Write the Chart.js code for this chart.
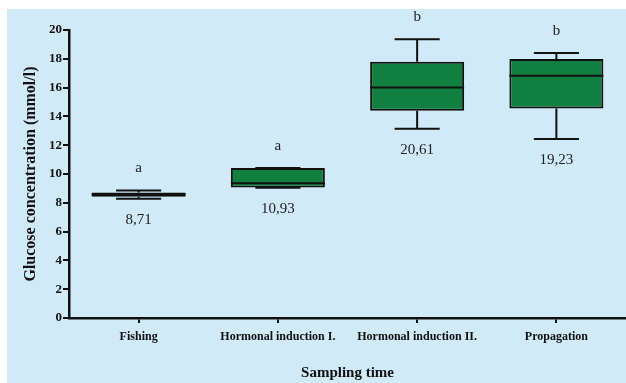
<!DOCTYPE html>
<html>
<head>
<meta charset="utf-8">
<script src="https://cdn.jsdelivr.net/npm/chart.js@4.4.1/dist/chart.umd.min.js"></script>
<style>
  html, body { margin: 0; padding: 0; background: #ffffff; }
  #wrap { position: absolute; left: 7px; top: 9px; width: 619px; height: 374px; background: #d0eaf7; }
</style>
</head>
<body>
<div id="wrap"><canvas id="box-chart" width="619" height="374"></canvas></div>
<script>
// sampling times
const categories = ['Fishing', 'Hormonal induction I.', 'Hormonal induction II.', 'Propagation'];

// box plot values (mmol/l)
const whiskerMin = [8.28, 9.05, 13.15, 12.43];
const quartile1  = [8.42, 9.07, 14.40, 14.54];
const medians    = [8.58, 9.35, 16.00, 16.83];
const quartile3  = [8.72, 10.42, 17.80, 17.98];
const whiskerMax = [8.85, 10.42, 19.35, 18.40];

// labels above / below each box
const groupLetters = ['a', 'a', 'b', 'b'];
const maxLabels = ['8,71', '10,93', '20,61', '19,23'];

const yTicks = [0, 2, 4, 6, 8, 10, 12, 14, 16, 18, 20];

var boxData = categories.map((c, i) => [quartile1[i], quartile3[i]]);

// whiskers, median and the text around each box
const boxExtras = {
    id: 'boxExtras',
    afterDatasetsDraw(chart) {
        const ctx = chart.ctx;
        const y = chart.scales.y;
        const bars = chart.getDatasetMeta(0).data;
        ctx.save();
        bars.forEach((bar, i) => {
            const x = bar.x;
            const half = bar.width / 2;
            const cap = bar.width * 0.24;
            const yMin = y.getPixelForValue(whiskerMin[i]);
            const yMax = y.getPixelForValue(whiskerMax[i]);
            const yQ1 = y.getPixelForValue(quartile1[i]);
            const yQ3 = y.getPixelForValue(quartile3[i]);
            const yMed = y.getPixelForValue(medians[i]);

            ctx.strokeStyle = '#111';
            ctx.lineWidth = 2;
            ctx.beginPath();
            ctx.moveTo(x, yQ3); ctx.lineTo(x, yMax);
            ctx.moveTo(x - cap, yMax); ctx.lineTo(x + cap, yMax);
            ctx.moveTo(x, yQ1); ctx.lineTo(x, yMin);
            ctx.moveTo(x - cap, yMin); ctx.lineTo(x + cap, yMin);
            ctx.moveTo(x - half, yMed); ctx.lineTo(x + half, yMed);
            ctx.stroke();

            ctx.fillStyle = '#222';
            ctx.font = '15px "Liberation Serif", serif';
            ctx.textAlign = 'center';
            ctx.textBaseline = 'middle';
            ctx.fillText(groupLetters[i], x, yMax - 22);
            ctx.fillText(maxLabels[i], x, yMin + 21);
        });
        ctx.restore();
    }
};

var ctx = document.getElementById('box-chart').getContext('2d');

new Chart(ctx, {
    type: 'bar',
    data: {
        labels: categories,
        datasets: [{
            data: boxData,
            backgroundColor: '#117f3f',
            borderColor: '#111',
            borderWidth: 2,
            borderSkipped: false,
            categoryPercentage: 1,
            barPercentage: 0.675
        }]
    },
    options: {
        responsive: false,
        animation: false,
        layout: { padding: { top: 21, right: 0, left: 0, bottom: 0 } },
        plugins: {
            legend: { display: false },
            tooltip: { enabled: false }
        },
        scales: {
            x: {
                grid: {
                    offset: false,
                    drawOnChartArea: false,
                    drawTicks: true,
                    tickLength: 5,
                    color: '#111',
                    lineWidth: 2
                },
                border: { color: '#111', width: 2.5 },
                ticks: {
                    color: '#111',
                    padding: 7,
                    font: { family: '"Liberation Serif", serif', size: 12, weight: 'bold' }
                },
                title: {
                    display: true,
                    text: 'Sampling time',
                    color: '#111',
                    padding: { top: 0, bottom: 1 },
                    font: { family: '"Liberation Serif", serif', size: 15, weight: 'bold' }
                },
                afterFit(scale) { scale.height = 65; }
            },
            y: {
                min: 0,
                max: 20,
                afterBuildTicks(scale) { scale.ticks = yTicks.map(v => ({ value: v })); },
                grid: {
                    drawOnChartArea: false,
                    drawTicks: true,
                    tickLength: 6,
                    color: '#111',
                    lineWidth: 2
                },
                border: { color: '#111', width: 2.5 },
                ticks: {
                    color: '#111',
                    padding: 1,
                    font: { family: '"Liberation Serif", serif', size: 13, weight: 'bold' }
                },
                title: {
                    display: true,
                    text: 'Glucose concentration (mmol/l)',
                    color: '#111',
                    padding: { top: 14, bottom: 0 },
                    font: { family: '"Liberation Serif", serif', size: 16, weight: 'bold' }
                },
                afterFit(scale) { scale.width = 62; }
            }
        }
    },
    plugins: [boxExtras]
});
</script>
</body>
</html>
